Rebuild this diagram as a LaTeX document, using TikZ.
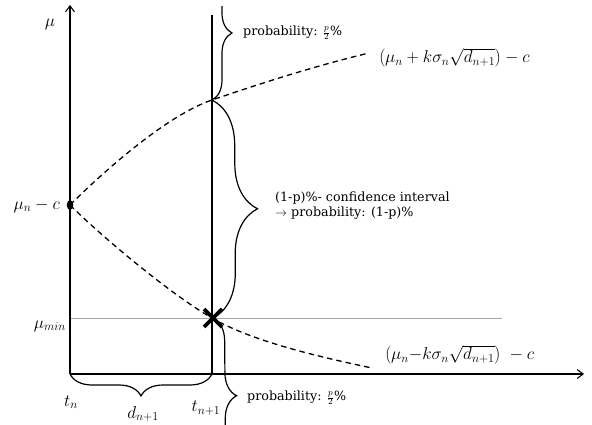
\documentclass[tikz,border=0pt]{standalone}
\usepackage{fontspec}
\setmainfont{DejaVu Serif}
\usetikzlibrary{decorations.pathreplacing,arrows.meta}
\tikzset{
  axis/.style={line width=1.3pt,-{Straight Barb[length=6pt,width=9pt,line width=1.1pt]}},
  vline/.style={line width=1.3pt},
  curlybrace/.style={line width=1.2pt,decorate,decoration={brace,amplitude=#1}},
  curve/.style={line width=1.3pt,dash pattern=on 5.5pt off 4pt},
  txt/.style={font=\fontsize{12.7}{15}\selectfont,inner sep=0pt},
  mth/.style={font=\fontsize{16.6}{19}\selectfont,inner sep=0pt},
}
\begin{document}
\begin{tikzpicture}[x=1pt,y=-1pt]
\useasboundingbox (0,0) rectangle (592,425);
\clip (0,0) rectangle (592,425);
\coordinate (O) at (70,374);
\coordinate (Ytop) at (70,5);
\coordinate (Xend) at (584,374);
\coordinate (Ttop) at (212,15);
\coordinate (Tbot) at (212,374);
\coordinate (P0) at (70,205);
\coordinate (Pu) at (212,100);
\coordinate (Pl) at (212,318);
\coordinate (Ue) at (369,53);
\coordinate (Le) at (372,368);
\coordinate (Gs) at (70,318);
\coordinate (Gend) at (502,318);
\coordinate (Bt) at (212,-25);
\coordinate (Bb) at (214,450);
\coordinate (Xc) at (213,318);
% gray mu_min line
\draw[gray!70,line width=0.8pt] (Gs) -- (Gend);
% axes
\draw[axis] (O) -- (Ytop);
\draw[axis] (O) -- (Xend);
\draw[vline] (Ttop) -- (Tbot);
% curves
\draw[curve] (P0) .. controls (100,175) and (165,116) .. (Pu)
                  .. controls (265,82) and (315,66) .. (Ue);
\draw[curve] (P0) .. controls (100,235) and (170,294) .. (Pl)
                  .. controls (250,340) and (310,355) .. (Le);
\fill (P0) ellipse [x radius=3.2pt, y radius=5pt];
% braces
\begin{scope}
\clip (0,7) rectangle (592,425);
\draw[curlybrace=20pt,decoration={aspect=0.464}] (Bt) -- (Pu);
\end{scope}
\draw[curlybrace=45pt] (Pu) -- (Xc);
\draw[curlybrace=23pt,decoration={aspect=0.59}] (Xc) -- (Bb);
\draw[curlybrace=22pt] (Tbot) -- (O);
% X mark
\draw[line width=3.6pt] (Xc) +(-9,-9) -- +(9,9) (Xc) +(-9,9) -- +(9,-9);
% labels
\node[mth] (mu) at (50,24) {$\mu$};
\node[mth,anchor=east] (muc) at (60,206) {$\mu_n - c$};
\node[mth,anchor=east] (mumin) at (66,326) {$\mu_{min}$};
\node[mth] (tn) at (71,402) {$t_n$};
\node[mth] (dn) at (143,414) {$d_{n+1}$};
\node[mth] (tn1) at (206,408) {$t_{n+1}$};
\node[txt,anchor=west] (ptop) at (243,33) {probability: $\frac{p}{2}$\%};
\node[txt,anchor=west] (pbot) at (247,398) {probability: $\frac{p}{2}$\%};
\node[txt,anchor=west,align=left] (ci) at (275,206) {(1-p)\%- confidence interval\\$\rightarrow$ probability: (1-p)\%};
\node[mth,anchor=west] (fu) at (379,58) {$\left(\mu_n + k\sigma_n\sqrt{d_{n+1}}\right) - c$};
\node[mth,anchor=west] (fl) at (385,355) {$\left(\mu_n{-}k\sigma_n\sqrt{d_{n+1}}\right)\ - c$};
\end{tikzpicture}
\end{document}
